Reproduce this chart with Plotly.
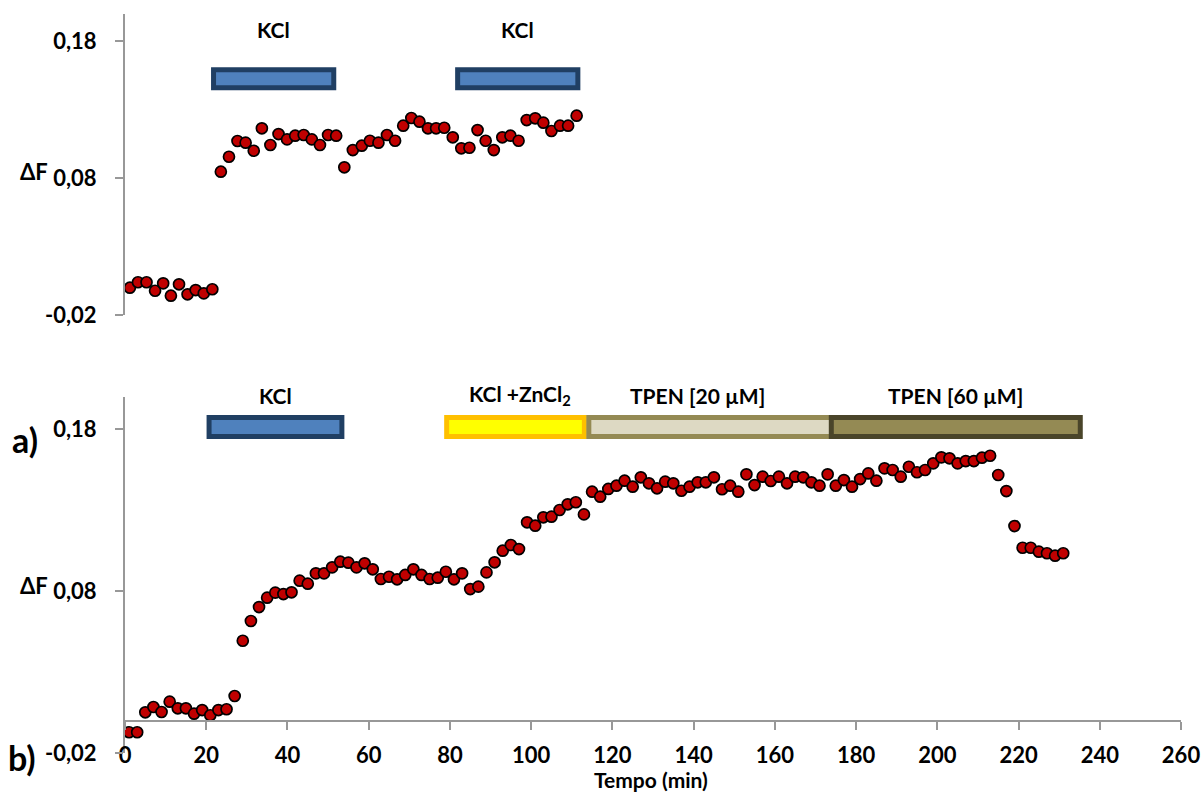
import plotly.graph_objects as go

# ---------------- data ----------------
TOP_T = [1.2, 3.2, 5.3, 7.4, 9.4, 11.3, 13.3, 15.4, 17.4, 19.4, 21.5, 23.6, 25.6, 27.7, 29.7,
         31.7, 33.7, 35.8, 37.8, 39.9, 41.9, 44.0, 46.0, 48.0, 50.0, 52.0, 54.0, 56.1, 58.3,
         60.3, 62.4, 64.5, 66.5, 68.5, 70.5, 72.5, 74.6, 76.6, 78.6, 80.7, 82.8, 84.8, 86.8,
         88.8, 90.8, 92.9, 94.9, 96.9, 98.9, 101.0, 103.0, 105.0, 107.1, 109.1, 111.2]
TOP_DF = [-0.0001, 0.0039, 0.0039, -0.0023, 0.0031, -0.0059, 0.0024, -0.0049, -0.0018, -0.0042,
          -0.0012, 0.0846, 0.0955, 0.1070, 0.1058, 0.0999, 0.1163, 0.1041, 0.1121, 0.1082,
          0.1109, 0.1114, 0.1082, 0.1041, 0.1114, 0.1109, 0.0878, 0.1004, 0.1036, 0.1072,
          0.1058, 0.1114, 0.1072, 0.1182, 0.1238, 0.1211, 0.1163, 0.1163, 0.1167, 0.1097,
          0.1017, 0.1021, 0.1150, 0.1072, 0.1004, 0.1097, 0.1109, 0.1072, 0.1223, 0.1236,
          0.1204, 0.1143, 0.1182, 0.1182, 0.1255]

BOT_T = [1, 3, 5, 7, 9, 11, 13, 15, 17, 19, 21, 23, 25, 27, 29, 31, 33, 35, 37, 39,
         41, 43, 45, 47, 49, 51, 53, 55, 57, 59, 61, 63, 65, 67, 69, 71, 73, 75, 77, 79,
         81, 83, 85, 87, 89, 91, 93, 95, 97, 99, 101, 103, 105, 107, 109, 111, 113, 115, 117, 119,
         121, 123, 125, 127, 129, 131, 133, 135, 137, 139, 141, 143, 145, 147, 149, 151, 153, 155, 157, 159,
         161, 163, 165, 167, 169, 171, 173, 175, 177, 179, 181, 183, 185, 187, 189, 191, 193, 195, 197, 199,
         201, 203, 205, 207, 209, 211, 213, 215, 217, 219, 221, 223, 225, 227, 229, 231]
BOT_DF = [-0.0072, -0.0072, 0.0051, 0.0084, 0.0053, 0.0117, 0.0076, 0.0076, 0.0043, 0.0065,
          0.0033, 0.0065, 0.0070, 0.0152, 0.0493, 0.0615, 0.0701, 0.0759, 0.0790, 0.0781,
          0.0792, 0.0864, 0.0845, 0.0909, 0.0909, 0.0946, 0.0981, 0.0975, 0.0946, 0.0971,
          0.0934, 0.0874, 0.0888, 0.0872, 0.0899, 0.0934, 0.0899, 0.0874, 0.0882, 0.0919,
          0.0872, 0.0909, 0.0812, 0.0827, 0.0915, 0.0977, 0.1049, 0.1084, 0.1059, 0.1224,
          0.1203, 0.1255, 0.1259, 0.1300, 0.1335, 0.1348, 0.1273, 0.1413, 0.1382, 0.1430,
          0.1450, 0.1481, 0.1444, 0.1502, 0.1465, 0.1434, 0.1475, 0.1465, 0.1419, 0.1444,
          0.1471, 0.1471, 0.1502, 0.1428, 0.1450, 0.1413, 0.1520, 0.1454, 0.1506, 0.1479,
          0.1506, 0.1465, 0.1506, 0.1502, 0.1471, 0.1450, 0.1520, 0.1450, 0.1485, 0.1444,
          0.1491, 0.1526, 0.1481, 0.1557, 0.1547, 0.1506, 0.1567, 0.1533, 0.1547, 0.1588,
          0.1625, 0.1619, 0.1588, 0.1602, 0.1602, 0.1623, 0.1635, 0.1516, 0.1417, 0.1201,
          0.1067, 0.1067, 0.1043, 0.1033, 0.1018, 0.1033]

TOP_STIM = ["KCl", "KCl"]
TOP_START = [21.8, 81.9]
TOP_END = [51.4, 111.5]

BOT_STIM = ["KCl", "KCl +ZnCl<sub>2</sub>", "TPEN [20 µM]", "TPEN [60 µM]"]
BOT_START = [20.7, 79.2, 114.2, 173.9]
BOT_END = [53.4, 113.1, 178.5, 235.2]

Y_TICKS = [-0.02, 0.08, 0.18]
Y_TICK_TEXT = ["-0,02", "0,08", "0,18"]
X_TICKS = [0, 20, 40, 60, 80, 100, 120, 140, 160, 180, 200, 220, 240, 260]

# ---------------- styles ----------------
FONT = "Lato"
AXIS_GRAY = "#989898"
TOP_FILLS = ["#4F81BD", "#4F81BD"]
TOP_LINES = ["#203F63", "#203F63"]
BOT_FILLS = ["#4F81BD", "#FFFF00", "#DDD9C3", "#948A54"]
BOT_LINES = ["#203F63", "#FFC000", "#948A54", "#4A452A"]
BOT_LABEL_SHIFT = [0, 1, -5.4, 0]

marker = dict(size=11, color="#C00000", line=dict(color="black", width=1.7))

fig = go.Figure()
fig.add_trace(go.Scatter(x=TOP_T, y=TOP_DF, mode="markers", marker=marker,
                         xaxis="x", yaxis="y", showlegend=False))
fig.add_trace(go.Scatter(x=BOT_T, y=BOT_DF, mode="markers", marker=marker,
                         xaxis="x2", yaxis="y2", showlegend=False))

tickfont = dict(family=FONT, size=22, color="black", weight="bold")

yax = dict(range=[-0.02, 0.2], showline=True, linecolor=AXIS_GRAY, linewidth=2,
           ticks="outside", ticklen=8, tickwidth=2, tickcolor=AXIS_GRAY,
           tickvals=Y_TICKS, ticktext=Y_TICK_TEXT, tickfont=tickfont,
           showgrid=False, zeroline=False, ticklabelstandoff=14)

fig.update_layout(
    width=1202, height=793,
    margin=dict(l=125, r=21, t=0, b=40),
    paper_bgcolor="white", plot_bgcolor="white",
    showlegend=False,
    xaxis=dict(domain=[0, 1], range=[0, 260], visible=False, anchor="y"),
    yaxis=dict(domain=[0.5817, 0.9819], anchor="x", **yax),
    xaxis2=dict(domain=[0, 1], range=[0, 260], anchor="free", position=0.043,
                showline=True, linecolor=AXIS_GRAY, linewidth=2,
                ticks="outside", ticklen=8, tickwidth=2, tickcolor=AXIS_GRAY,
                tickvals=X_TICKS, tickfont=tickfont, showgrid=False, zeroline=False,
                ticklabelstandoff=7),
    yaxis2=dict(domain=[0, 0.4733], anchor="x2", **yax),
)

shapes = []
annotations = []
lab_font = dict(family=FONT, size=21, color="black")
for name, s, e, fc, lc in zip(TOP_STIM, TOP_START, TOP_END, TOP_FILLS, TOP_LINES):
    shapes.append(dict(type="rect", xref="x", yref="y", x0=s, x1=e, y0=0.1458, y1=0.159,
                       fillcolor=fc, line=dict(color=lc, width=5), layer="above"))
    annotations.append(dict(text="<b>" + name + "</b>", xref="x", yref="paper", x=(s + e) / 2, y=0.9602,
                            showarrow=False, font=lab_font, xanchor="center", yanchor="middle"))
for name, s, e, fc, lc, sh in zip(BOT_STIM, BOT_START, BOT_END, BOT_FILLS, BOT_LINES, BOT_LABEL_SHIFT):
    shapes.append(dict(type="rect", xref="x2", yref="y2", x0=s, x1=e, y0=0.1754, y1=0.1871,
                       fillcolor=fc, line=dict(color=lc, width=5), layer="above"))
    annotations.append(dict(text="<b>" + name + "</b>", xref="x2", yref="paper", x=(s + e) / 2 + sh, y=0.4754,
                            showarrow=False, font=lab_font, xanchor="center", yanchor="middle"))

big = dict(family=FONT, size=22, color="black")
huge = dict(family=FONT, size=34, color="black")
common = dict(xref="paper", yref="paper", showarrow=False, xanchor="center", yanchor="middle")
annotations += [
    dict(text="<b>ΔF</b>", x=-0.0862, y=0.7716, font=big, **common),
    dict(text="<b>ΔF</b>", x=-0.0862, y=0.2231, font=big, **common),
    dict(text="<b>a)</b>", x=-0.0947, y=0.4157, font=huge, **common),
    dict(text="<b>b)</b>", x=-0.0975, y=-0.0066, font=huge, **common),
    dict(text="<b>Tempo (min)</b>", x=0.498, y=0, yshift=-26, borderpad=0,
         font=dict(family=FONT, size=21, color="black"), **common),
]
fig.update_layout(shapes=shapes, annotations=annotations)

fig.write_html("out.html")
